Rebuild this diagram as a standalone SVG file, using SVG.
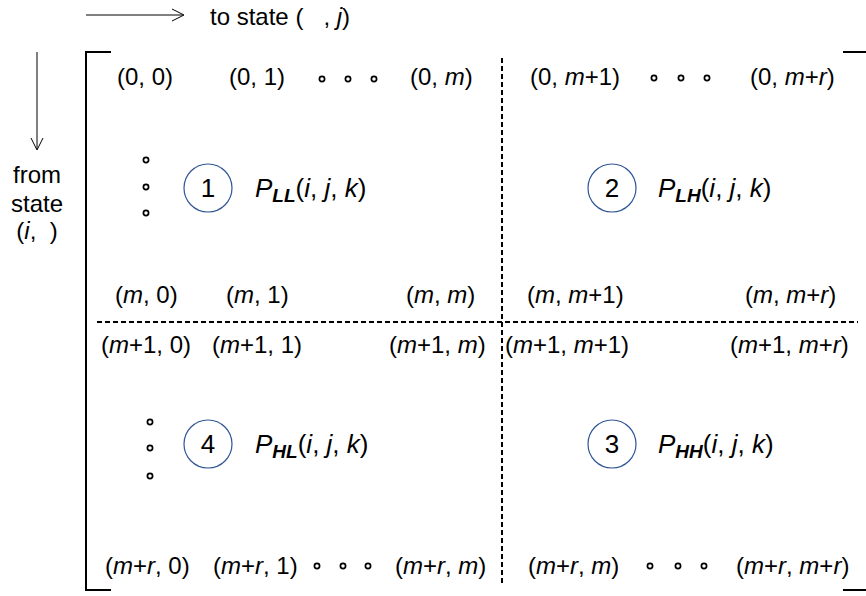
<svg xmlns="http://www.w3.org/2000/svg" width="866" height="596" viewBox="0 0 866 596">
<defs>
<style>
text{font-family:"Liberation Sans",Arial,sans-serif;font-size:24px;fill:#000}
.i{font-style:italic}
.pt{font-size:26px}
.sub{font-style:italic;font-weight:bold;font-size:19px}
.br{stroke:#000;stroke-width:2;fill:none}
.ar{stroke:#000;stroke-width:1;fill:none}
.dash{stroke:#000;stroke-width:2;stroke-dasharray:5 3;fill:none}
.dot{fill:#fff;stroke:#000;stroke-width:1.7}
.num{stroke:#2F5597;stroke-width:1.2;fill:none}
</style>
</defs>
<g id="connectors">
<line class="ar" x1="86" y1="15" x2="183" y2="15"/>
<polyline class="ar" points="172,9 184,15 172,21"/>
<line class="ar" x1="37" y1="52" x2="37" y2="149"/>
<polyline class="ar" points="31,138 37,150 43,138"/>
<polyline class="br" points="111,52 86,52 86,590 111,590"/>
<line class="br" x1="843" y1="52" x2="866" y2="52"/>
<line class="br" x1="843" y1="590" x2="866" y2="590"/>
<line class="dash" x1="502" y1="58" x2="502" y2="586"/>
<line class="dash" x1="97" y1="322" x2="858" y2="322"/>
</g>
<g id="axis-labels">
<text x="210" y="25">to state (&#160;&#160;&#160;, <tspan class="i">j</tspan>)</text>
<text x="37" y="183" text-anchor="middle">from</text>
<text x="37" y="212" text-anchor="middle">state</text>
<text x="37" y="239" text-anchor="middle">(<tspan class="i">i</tspan>,&#160;&#160;)</text>
</g>
<g id="row-0">
<text x="117" y="85">(0, 0)</text>
<text x="229" y="85">(0, 1)</text>
<circle class="dot" cx="322" cy="79" r="2.6"/><circle class="dot" cx="348" cy="79" r="2.6"/><circle class="dot" cx="374" cy="79" r="2.6"/>
<text x="410" y="85">(0, <tspan class="i">m</tspan>)</text>
<text x="530" y="85">(0, <tspan class="i">m</tspan>+1)</text>
<circle class="dot" cx="654" cy="78" r="2.6"/><circle class="dot" cx="681" cy="78" r="2.6"/><circle class="dot" cx="707" cy="78" r="2.6"/>
<text x="750" y="85">(0, <tspan class="i">m</tspan>+<tspan class="i">r</tspan>)</text>
</g>
<g id="block-1">
<circle class="dot" cx="146" cy="160" r="2.6"/><circle class="dot" cx="146" cy="187" r="2.6"/><circle class="dot" cx="146" cy="213" r="2.6"/>
<circle class="num" cx="208" cy="188" r="24"/>
<text class="pt" x="208" y="197" text-anchor="middle">1</text>
<text class="pt" x="255" y="197"><tspan class="i">P</tspan><tspan class="sub" dy="5">LL</tspan><tspan dy="-5">(</tspan><tspan class="i">i</tspan>, <tspan class="i">j</tspan>, <tspan class="i">k</tspan>)</text>
</g>
<g id="block-2">
<circle class="num" cx="612" cy="188" r="24"/>
<text class="pt" x="612" y="197" text-anchor="middle">2</text>
<text class="pt" x="658" y="197"><tspan class="i">P</tspan><tspan class="sub" dy="5">LH</tspan><tspan dy="-5">(</tspan><tspan class="i">i</tspan>, <tspan class="i">j</tspan>, <tspan class="i">k</tspan>)</text>
</g>
<g id="row-m">
<text x="115" y="303">(<tspan class="i">m</tspan>, 0)</text>
<text x="226" y="303">(<tspan class="i">m</tspan>, 1)</text>
<text x="406" y="303">(<tspan class="i">m</tspan>, <tspan class="i">m</tspan>)</text>
<text x="527" y="303">(<tspan class="i">m</tspan>, <tspan class="i">m</tspan>+1)</text>
<text x="745" y="303">(<tspan class="i">m</tspan>, <tspan class="i">m</tspan>+<tspan class="i">r</tspan>)</text>
</g>
<g id="row-m1">
<text x="101" y="353">(<tspan class="i">m</tspan>+1, 0)</text>
<text x="212" y="353">(<tspan class="i">m</tspan>+1, 1)</text>
<text x="389" y="353">(<tspan class="i">m</tspan>+1, <tspan class="i">m</tspan>)</text>
<text x="505" y="353">(<tspan class="i">m</tspan>+1, <tspan class="i">m</tspan>+1)</text>
<text x="730" y="353">(<tspan class="i">m</tspan>+1, <tspan class="i">m</tspan>+<tspan class="i">r</tspan>)</text>
</g>
<g id="block-4">
<circle class="dot" cx="150" cy="422" r="2.6"/><circle class="dot" cx="150" cy="448" r="2.6"/><circle class="dot" cx="150" cy="476" r="2.6"/>
<circle class="num" cx="208" cy="444" r="24"/>
<text class="pt" x="208" y="453" text-anchor="middle">4</text>
<text class="pt" x="255" y="453"><tspan class="i">P</tspan><tspan class="sub" dy="5">HL</tspan><tspan dy="-5">(</tspan><tspan class="i">i</tspan>, <tspan class="i">j</tspan>, <tspan class="i">k</tspan>)</text>
</g>
<g id="block-3">
<circle class="num" cx="612" cy="444" r="24"/>
<text class="pt" x="612" y="453" text-anchor="middle">3</text>
<text class="pt" x="658" y="453"><tspan class="i">P</tspan><tspan class="sub" dy="5">HH</tspan><tspan dy="-5">(</tspan><tspan class="i">i</tspan>, <tspan class="i">j</tspan>, <tspan class="i">k</tspan>)</text>
</g>
<g id="row-mr">
<text x="105" y="574">(<tspan class="i">m</tspan>+<tspan class="i">r</tspan>, 0)</text>
<text x="213" y="574">(<tspan class="i">m</tspan>+<tspan class="i">r</tspan>, 1)</text>
<circle class="dot" cx="317" cy="566" r="2.6"/><circle class="dot" cx="343" cy="566" r="2.6"/><circle class="dot" cx="368" cy="566" r="2.6"/>
<text x="395" y="574">(<tspan class="i">m</tspan>+<tspan class="i">r</tspan>, <tspan class="i">m</tspan>)</text>
<text x="528" y="574">(<tspan class="i">m</tspan>+<tspan class="i">r</tspan>, <tspan class="i">m</tspan>)</text>
<circle class="dot" cx="650" cy="566" r="2.6"/><circle class="dot" cx="678" cy="566" r="2.6"/><circle class="dot" cx="704" cy="566" r="2.6"/>
<text x="736" y="574">(<tspan class="i">m</tspan>+<tspan class="i">r</tspan>, <tspan class="i">m</tspan>+<tspan class="i">r</tspan>)</text>
</g>
</svg>
